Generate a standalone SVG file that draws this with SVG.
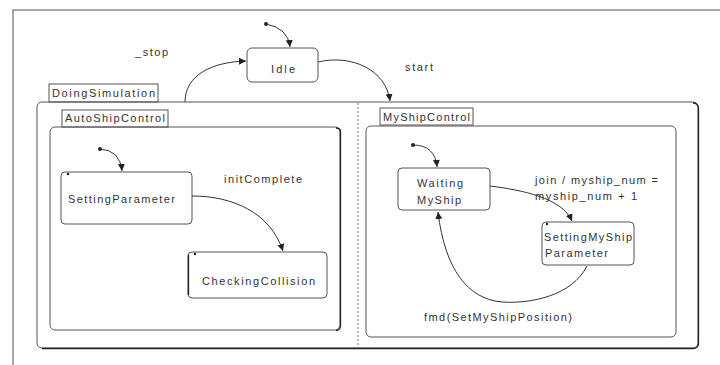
<svg xmlns="http://www.w3.org/2000/svg" width="720" height="365" viewBox="0 0 720 365">
  <defs>
    <marker id="arrow" markerUnits="userSpaceOnUse" markerWidth="8" markerHeight="8" refX="7" refY="4" orient="auto">
      <path d="M0,0.5 L7,4 L0,7.5 Z" fill="#222"/>
    </marker>
    <style>
      text { font-family: "Liberation Sans", Arial, sans-serif; font-size: 11px; fill: #333; }
      .frame { fill: none; stroke: #8a8a8a; stroke-width: 1.5; }
      .state { fill: #fff; stroke: #555; stroke-width: 1; }
      .region { fill: none; stroke: #555; stroke-width: 1; }
      .shadow { fill: none; stroke: #222; stroke-width: 1.3; }
      .tab { fill: #fff; stroke: #555; stroke-width: 1; }
      .edge { fill: none; stroke: #333; stroke-width: 1; marker-end: url(#arrow); }
      .init { fill: #222; }
      .divider { stroke: #777; stroke-width: 1; stroke-dasharray: 2 2; }
    </style>
  </defs>

  <rect width="720" height="365" fill="#fff"/>

  <!-- diagram frame -->
  <path class="frame" d="M13,365 L13,10 L720,10"/>

  <!-- composite state DoingSimulation -->
  <g id="DoingSimulation">
    <rect class="tab" x="49" y="84" width="109" height="18"/>
    <text x="52" y="97" textLength="103" lengthAdjust="spacing">DoingSimulation</text>
    <rect class="region" x="37" y="102" width="661" height="246" rx="5"/>
    <path class="shadow" d="M693,103 Q698,103 698.5,108 L698.5,344 Q698,348.5 693,348.5 L42,348.5"/>
    <line class="divider" x1="358" y1="103" x2="358" y2="347"/>
  </g>

  <!-- region AutoShipControl -->
  <g id="AutoShipControl">
    <rect class="tab" x="62" y="110" width="106" height="17"/>
    <text x="65" y="122" textLength="100" lengthAdjust="spacing">AutoShipControl</text>
    <rect class="region" x="50" y="127" width="290" height="203" rx="5"/>
    <path class="shadow" d="M336,128 Q340.5,128 340.5,132 L340.5,326 Q340,330.5 336,330.5"/>
  </g>

  <!-- region MyShipControl -->
  <g id="MyShipControl">
    <rect class="tab" x="380" y="108" width="93" height="17"/>
    <text x="383" y="121" textLength="87" lengthAdjust="spacing">MyShipControl</text>
    <rect class="region" x="366" y="126" width="310" height="211" rx="5"/>
  </g>

  <!-- simple states -->
  <g id="Idle">
    <rect class="state" x="247" y="48" width="71" height="34" rx="5"/>
    <text x="283" y="73" text-anchor="middle" textLength="24" lengthAdjust="spacing">Idle</text>
  </g>

  <g id="SettingParameter">
    <rect class="state" x="61" y="172" width="131" height="52" rx="4"/>
    <circle class="init" cx="68" cy="174" r="1.3"/>
    <text x="68" y="203" textLength="107" lengthAdjust="spacing">SettingParameter</text>
  </g>

  <g id="CheckingCollision">
    <rect class="state" x="188" y="252" width="139" height="46" rx="4"/>
    <line x1="188.5" y1="255" x2="188.5" y2="295" stroke="#222" stroke-width="1.3"/>
    <circle class="init" cx="195" cy="254" r="1.2"/>
    <text x="202" y="285" textLength="113" lengthAdjust="spacing">CheckingCollision</text>
  </g>

  <g id="WaitingMyShip">
    <rect class="state" x="398" y="168" width="92" height="42" rx="4"/>
    <text x="440" y="187" text-anchor="middle" textLength="46" lengthAdjust="spacing">Waiting</text>
    <text x="439" y="204" text-anchor="middle" textLength="44" lengthAdjust="spacing">MyShip</text>
  </g>

  <g id="SettingMyShipParameter">
    <rect class="state" x="542" y="222" width="92" height="43" rx="4"/>
    <circle class="init" cx="547" cy="224" r="1.2"/>
    <text x="544" y="241" textLength="88" lengthAdjust="spacing">SettingMyShip</text>
    <text x="545" y="257" textLength="63" lengthAdjust="spacing">Parameter</text>
  </g>

  <!-- initial pseudostates -->
  <g id="initial-top"><circle class="init" cx="266" cy="24" r="2"/></g>
  <g id="initial-auto"><circle class="init" cx="100" cy="149" r="2"/></g>
  <g id="initial-myship"><circle class="init" cx="413" cy="145" r="2"/></g>

  <!-- transitions -->
  <g id="connectors">
    <path class="edge" d="M266,24 Q288,28 290,47"/>
    <path class="edge" d="M185,102 C185,75 212,62 246,61"/>
    <path class="edge" d="M318,62 C352,54 386,70 390,101"/>
    <path class="edge" d="M100,149 Q120,150 122,171"/>
    <path class="edge" d="M192,196 C232,196 270,212 283,251"/>
    <path class="edge" d="M413,145 Q435,145 437,167"/>
    <path class="edge" d="M490,186 C522,190 562,198 572,221"/>
    <path class="edge" d="M587,266 C572,296 530,304 502,302 C468,299 445,270 438,212"/>
  </g>

  <!-- transition labels -->
  <g id="labels">
    <text x="135" y="56" textLength="33" lengthAdjust="spacing">_stop</text>
    <text x="405" y="71" textLength="28" lengthAdjust="spacing">start</text>
    <text x="224" y="183" textLength="78" lengthAdjust="spacing">initComplete</text>
    <text x="535" y="184" textLength="123" lengthAdjust="spacing">join / myship_num =</text>
    <text x="535" y="200" textLength="102" lengthAdjust="spacing">myship_num + 1</text>
    <text x="424" y="321" textLength="148" lengthAdjust="spacing">fmd(SetMyShipPosition)</text>
  </g>
</svg>
